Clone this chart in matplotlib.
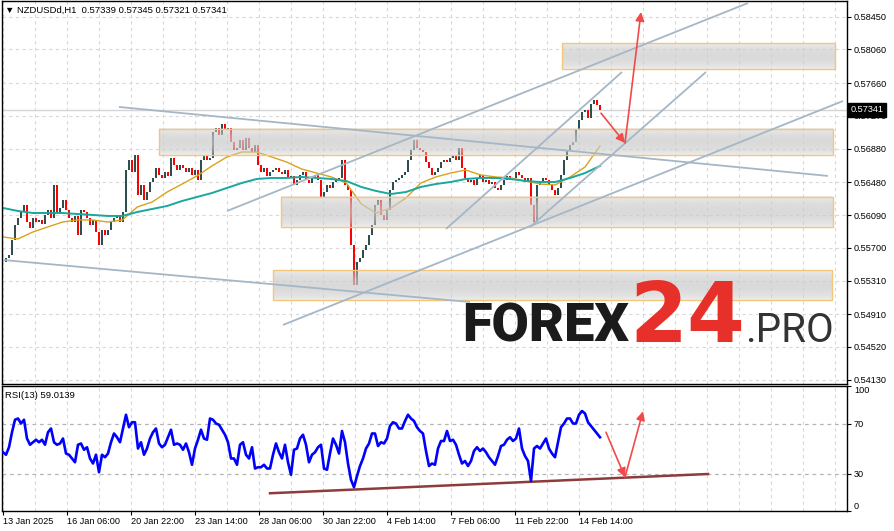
import matplotlib
matplotlib.use("Agg")
import matplotlib.pyplot as plt
import matplotlib.transforms as mtransforms
from matplotlib.patches import Rectangle
import numpy as np

plt.rcParams['font.family'] = ['Liberation Sans', 'DejaVu Sans']

# ---------------- data ----------------
closes = [
    0.5553, 0.5558, 0.5562, 0.5579, 0.5597, 0.5606, 0.5613, 0.5621, 0.5601, 0.5594,
    0.5606, 0.5601, 0.5603, 0.5598, 0.5609, 0.5615, 0.5606, 0.5645, 0.5613, 0.5617,
    0.5627, 0.5615, 0.5606, 0.5601, 0.5608, 0.5585, 0.5615, 0.5613, 0.5606, 0.5597,
    0.5603, 0.5589, 0.5573, 0.5591, 0.5585, 0.5591, 0.5601, 0.5606, 0.5609, 0.5601,
    0.5613, 0.5663, 0.5675, 0.5660, 0.5680, 0.5633, 0.5645, 0.5627, 0.5636, 0.5648,
    0.5653, 0.5665, 0.5657, 0.5653, 0.5660, 0.5656, 0.5677, 0.5669, 0.5663, 0.5669,
    0.5665, 0.5660, 0.5665, 0.5657, 0.5663, 0.5651, 0.5675, 0.5680, 0.5675, 0.5677,
    0.5708, 0.5713, 0.5704, 0.5717, 0.5710, 0.5713, 0.5696, 0.5686, 0.5689, 0.5698,
    0.5686, 0.5701, 0.5689, 0.5684, 0.5692, 0.5669, 0.5660, 0.5665, 0.5656, 0.5660,
    0.5663, 0.5665, 0.5660, 0.5658, 0.5663, 0.5653, 0.5656, 0.5645, 0.5651, 0.5657,
    0.5660, 0.5651, 0.5647, 0.5653, 0.5657, 0.5651, 0.5629, 0.5636, 0.5645, 0.5641,
    0.5648, 0.5651, 0.5653, 0.5675, 0.5645, 0.5639, 0.5573, 0.5526, 0.5553, 0.5558,
    0.5567, 0.5573, 0.5585, 0.5597, 0.5621, 0.5627, 0.5609, 0.5603, 0.5615, 0.5639,
    0.5648, 0.5651, 0.5653, 0.5657, 0.5660, 0.5675, 0.5686, 0.5698, 0.5689, 0.5686,
    0.5684, 0.5672, 0.5665, 0.5657, 0.5660, 0.5665, 0.5672, 0.5675, 0.5672, 0.5677,
    0.5680, 0.5675, 0.5689, 0.5665, 0.5653, 0.5648, 0.5651, 0.5645, 0.5653, 0.5657,
    0.5648, 0.5651, 0.5646, 0.5648, 0.5641, 0.5639, 0.5645, 0.5651, 0.5656, 0.5651,
    0.5653, 0.5660, 0.5657, 0.5653, 0.5648, 0.5653, 0.5621, 0.5601, 0.5645, 0.5648,
    0.5653, 0.5651, 0.5645, 0.5639, 0.5633, 0.5641, 0.5657, 0.5675, 0.5686, 0.5692,
    0.5696, 0.5710, 0.5722, 0.5732, 0.5734, 0.5725, 0.5741, 0.5746, 0.5740, 0.57341,
]

rsi_values = [
    47, 45, 51, 63, 73, 74, 70, 73, 58, 53, 55, 57, 55, 57, 53, 63, 66, 55, 53, 54,
    58, 46, 45, 42, 39, 53, 54, 49, 51, 42, 38, 45, 31, 45, 43, 46, 55, 62, 59, 55,
    66, 77, 67, 71, 71, 50, 55, 45, 50, 58, 63, 66, 54, 51, 53, 59, 65, 53, 54, 53,
    49, 54, 47, 37, 50, 57, 65, 58, 57, 74, 73, 70, 69, 65, 61, 55, 42, 42, 37, 53,
    55, 45, 42, 51, 34, 35, 35, 37, 34, 34, 45, 54, 47, 42, 53, 39, 29, 49, 50,
    58, 61, 53, 39, 45, 47, 51, 53, 34, 33, 46, 58, 53, 46, 64, 55, 38, 25, 19, 28,
    36, 42, 50, 54, 62, 62, 52, 55, 54, 58, 68, 71, 70, 66, 66, 72, 77, 74, 72, 67,
    64, 62, 48, 36, 38, 37, 50, 56, 56, 64, 56, 57, 53, 45, 38, 40, 36, 40, 48, 51,
    48, 50, 47, 43, 40, 37, 44, 52, 53, 57, 59, 56, 58, 66, 50, 44, 40, 24, 50, 52,
    50, 54, 58, 50, 46, 43, 55, 67, 70, 74, 74, 70, 70, 77, 80, 78, 71, 68, 65, 62,
    59.0139,
]

ma_fast = [
    0.55829, 0.55805, 0.55888, 0.55948, 0.56007, 0.56031, 0.56031, 0.56007, 0.56031, 0.56186,
    0.56245, 0.56364, 0.56459, 0.56555, 0.56674, 0.56781, 0.56840, 0.56840, 0.56781, 0.56721,
    0.56638, 0.56590, 0.56543, 0.56471, 0.56221, 0.56114, 0.56174, 0.56293, 0.56471, 0.56543,
    0.56590, 0.56626, 0.56567, 0.56543, 0.56531, 0.56495, 0.56459, 0.56448, 0.56543, 0.56662,
    0.56912,
]
ma_slow = [
    0.56174, 0.56138, 0.56114, 0.56114, 0.56114, 0.56102, 0.56091, 0.56079, 0.56079, 0.56126,
    0.56162, 0.56198, 0.56257, 0.56305, 0.56352, 0.56412, 0.56471, 0.56519, 0.56531, 0.56531,
    0.56543, 0.56531, 0.56519, 0.56495, 0.56424, 0.56376, 0.56340, 0.56364, 0.56424, 0.56459,
    0.56483, 0.56519, 0.56531, 0.56531, 0.56519, 0.56495, 0.56483, 0.56483, 0.56531, 0.56590,
    0.56674,
]

price_ticks = [0.58450, 0.58060, 0.57660, 0.57270, 0.56880, 0.56480, 0.56090,
               0.55700, 0.55310, 0.54910, 0.54520, 0.54130]
date_labels = ['13 Jan 2025', '16 Jan 06:00', '20 Jan 22:00', '23 Jan 14:00',
               '28 Jan 06:00', '30 Jan 22:00', '4 Feb 14:00', '7 Feb 06:00',
               '11 Feb 22:00', '14 Feb 14:00']
rsi_ticks = [0, 30, 70, 100]

# support / resistance zones (start hour, end hour, low, high)
zone_start = [559, 156, 278, 270]
zone_end = [832, 830, 830, 829]
zone_low = [0.57828, 0.56804, 0.55944, 0.55079]
zone_high = [0.58137, 0.57114, 0.56308, 0.55436]

# trend lines (x0, x1, p0, p1)
trend_x0 = [116, 0, 280, 224, 443, 527]
trend_x1 = [825, 467, 840, 745, 619, 703]
trend_p0 = [0.57376, 0.55555, 0.54782, 0.56138, 0.55924, 0.55948]
trend_p1 = [0.56555, 0.55055, 0.57447, 0.58613, 0.57792, 0.57792]

# forecast arrows
arrow_x = [598, 622, 638]
arrow_p = [0.57302, 0.56947, 0.58506]
rsi_arrow_x = [603, 622, 640]
rsi_arrow_v = [63.0, 27.1, 79.8]
rsi_trend_x = [267, 705]
rsi_trend_v = [14.2, 29.6]

title = '\u25bc NZDUSDd,H1  0.57339 0.57345 0.57321 0.57341'
rsi_title = 'RSI(13) 59.0139'

# ---------------- layout ----------------
W, H = 894, 531
fig = plt.figure(figsize=(W / 100, H / 100), dpi=100)
fig.patch.set_facecolor('white')


def rect(l, t, r, b):
    return [l / W, 1 - b / H, (r - l) / W, (b - t) / H]


ax = fig.add_axes(rect(2, 1, 847, 384))
axr = fig.add_axes(rect(2, 386, 847, 511), sharex=ax)

step = 3
n = len(closes)
c = np.array(closes)
o = np.r_[c[0], c[:-1]]
x = np.arange(n) * step

grid_kw = dict(color='#d9d9d9', lw=0.8, dashes=(3, 3), zorder=0.5)
for gx in range(0, 845, 32):
    ax.axvline(gx, **grid_kw)
    axr.axvline(gx, **grid_kw)
for pt in price_ticks:
    ax.axhline(pt, **grid_kw)

# bid line
ax.axhline(c[-1], color='#d5d5d5', lw=1.0, zorder=0.8)

# candles
up = c >= o
bottoms = np.minimum(c, o)
heights = np.maximum(np.abs(c - o), 0.00004)
colors = np.where(up, '#2f4f4f', '#ff0000')
ax.bar(x, heights, bottom=bottoms, width=2.2, color=colors, linewidth=0, zorder=2)

# moving averages
xm = np.linspace(0, x[-1], len(ma_fast))
ax.plot(xm, ma_fast, color='#d9a21b', lw=1.0, zorder=2.5)
ax.plot(xm, ma_slow, color='#18a89c', lw=1.4, zorder=2.5)

# zones with soft vertical shading
prof = np.linspace(0, 1, 64)
alpha_prof = 0.30 + 0.42 * np.sin(np.pi * prof) ** 0.6
grad = np.zeros((64, 1, 4))
grad[..., 0] = grad[..., 1] = grad[..., 2] = 0.80
grad[:, 0, 3] = alpha_prof
for x0, x1, lo, hi in zip(zone_start, zone_end, zone_low, zone_high):
    ax.imshow(grad, extent=(x0, x1, lo, hi), aspect='auto', origin='lower',
              interpolation='bilinear', zorder=3)
    ax.add_patch(Rectangle((x0, lo), x1 - x0, hi - lo, fill=False,
                           edgecolor='#f3c67a', lw=1.0, zorder=3.2))

# trend lines
for x0, x1, p0, p1 in zip(trend_x0, trend_x1, trend_p0, trend_p1):
    ax.plot([x0, x1], [p0, p1], color='#a5b7c6', lw=1.3, zorder=4, solid_capstyle='butt')

# arrows
arrow_col = '#f04a4a'
for i in range(2):
    ax.annotate('', xy=(arrow_x[i + 1], arrow_p[i + 1]), xytext=(arrow_x[i], arrow_p[i]),
                arrowprops=dict(arrowstyle='-|>', color=arrow_col, lw=1.2,
                                mutation_scale=13, shrinkA=0, shrinkB=0), zorder=5)
    axr.annotate('', xy=(rsi_arrow_x[i + 1], rsi_arrow_v[i + 1]),
                 xytext=(rsi_arrow_x[i], rsi_arrow_v[i]),
                 arrowprops=dict(arrowstyle='-|>', color=arrow_col, lw=1.2,
                                 mutation_scale=13, shrinkA=0, shrinkB=0), zorder=5)

ax.set_xlim(-1, 844)
ax.set_ylim(0.54079, 0.58637)

# price axis
ax.yaxis.tick_right()
ax.set_yticks(price_ticks)
ax.set_yticklabels([f'{v:.5f}' for v in price_ticks])
ax.tick_params(axis='y', direction='out', length=3, width=0.8, labelsize=6.6, pad=2,
               colors='black')
ax.tick_params(axis='x', bottom=False, labelbottom=False)
for s in ax.spines.values():
    s.set_color('black')
    s.set_linewidth(1.0)

# current price tag
trans = mtransforms.blended_transform_factory(ax.transAxes, ax.transData)
ax.text(1.004, c[-1], f'{closes[-1]:.5f}', transform=trans, color='white', fontsize=6.6,
        va='center', ha='left', clip_on=False, zorder=10,
        bbox=dict(boxstyle='square,pad=0.25', facecolor='black', edgecolor='black'))

# RSI panel
axr.plot(x, rsi_values, color='#0000ff', lw=1.9, zorder=3)
for lv in (30, 70):
    axr.axhline(lv, color='#b5b5b5', lw=0.9, dashes=(3, 3), zorder=1)
axr.plot(rsi_trend_x, rsi_trend_v, color='#8e3b3b', lw=1.8, zorder=2.5)
axr.set_ylim(0, 100)
axr.yaxis.tick_right()
axr.set_yticks(rsi_ticks)
axr.set_yticklabels([str(v) for v in rsi_ticks])
axr.tick_params(axis='y', direction='out', length=3, width=0.8, labelsize=6.6, pad=2)
for lbl in axr.get_yticklabels():
    if lbl.get_text() == '100':
        lbl.set_va('top')
    elif lbl.get_text() == '0':
        lbl.set_va('bottom')
axr.set_xticks(np.arange(len(date_labels)) * 64)
axr.set_xticklabels(date_labels)
axr.tick_params(axis='x', direction='out', length=3, width=0.8, labelsize=6.6, pad=1)
for lbl in axr.get_xticklabels():
    lbl.set_ha('left')
for s in axr.spines.values():
    s.set_color('black')
    s.set_linewidth(1.0)

# texts
fig.text(5 / W, 1 - 10 / H, title, fontsize=6.8, va='center', ha='left', color='black')
fig.text(5 / W, 1 - 395 / H, rsi_title, fontsize=6.8, va='center', ha='left', color='black')

# watermark logo
yb = 1 - 342 / H
fig.text(462 / W, yb, 'FOREX', fontsize=39, family=['Roboto', 'DejaVu Sans'],
         fontweight='black', color='#1b1b1b', va='baseline', ha='left', zorder=6)
fig.text(629 / W, yb, '24', fontsize=60, family=['DejaVu Sans'], fontweight='bold',
         color='#e8302a', va='baseline', ha='left', zorder=6)
fig.text(745 / W, yb, '.PRO', fontsize=29, family=['Roboto', 'DejaVu Sans'],
         color='#333333', va='baseline', ha='left', zorder=6)

fig.savefig('out.png', dpi=100, facecolor='white')
